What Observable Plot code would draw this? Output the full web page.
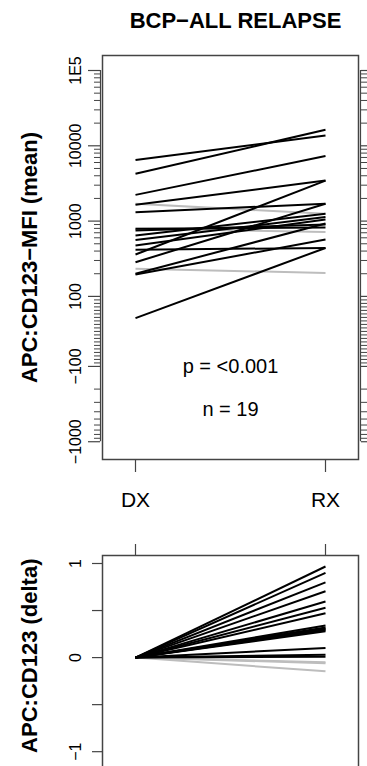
<!DOCTYPE html>
<html><head><meta charset="utf-8">
<script src="https://cdn.jsdelivr.net/npm/d3@7"></script>
<script src="https://cdn.jsdelivr.net/npm/@observablehq/plot@0.6"></script>
<style>
body{margin:0;background:#fff;}
#wrap{width:367px;height:766px;overflow:hidden;}
#wrap svg{display:block;}
</style></head>
<body><div id="wrap"></div>
<script>
// ---- data ----
const categories = ["DX", "RX"];
const dxValues = [6500, 4250, 2230, 1650, 360, 38, 1700, 790, 233, 1310, 284, 416, 195, 644, 474, 200, 790, 560, 750];
const rxValues = [13700, 16300, 7300, 3450, 3450, 440, 1250, 716, 205, 1700, 1700, 440, 570, 1250, 1050, 930, 820, 1130, 900];
const isGray   = [0, 0, 0, 0, 0, 0, 1, 1, 1, 0, 0, 0, 0, 0, 0, 0, 0, 0, 0];
const deltaValues = [0.32, 0.596, 0.529, 0.30, 0.968, 0.90, -0.146, -0.05, -0.06, 0.103, 0.80, 0.03, 0.471, 0.29, 0.34, 0.705, 0.01, 0.28, 0.31];
const majorTicks = [1e5, 1e4, 1e3, 100, -100, -1000];
const majorLabels = ["1E5", "10000", "1000", "100", "\u2212100", "\u22121000"];
const deltaTicks = [1, 0.5, 0, -0.5, -1];
const deltaLabels = ["1", "", "0", "", "\u22121"];
const titleText = "BCP\u2212ALL RELAPSE";
const yLabelTop = "APC:CD123\u2212MFI (mean)";
const yLabelBottom = "APC:CD123 (delta)";
const pText = "p = <0.001";
const nText = "n = 19";

// minor ticks
const minorTicks = [];
for (let e = 2; e <= 4; e++) for (let m = 2; m <= 9; m++) minorTicks.push(m * 10 ** e);
for (let v = -90; v <= 90; v += 10) minorTicks.push(v);
for (let m = 2; m <= 9; m++) minorTicks.push(-m * 100);

// ---- scale transform (log above 100, linear in [-100,100], mirrored log below) ----
const L = 0.93;
function tf(v) {
  if (v >= 100) return Math.log10(v);
  if (v <= -100) return 2 - L - (Math.log10(-v) - 2);
  return 2 - (100 - v) / 200 * L;
}

const rows = dxValues.map((d, i) => ({dx: d, rx: rxValues[i], g: isGray[i], delta: deltaValues[i]}));
const ordered = [...rows.filter(r => r.g), ...rows.filter(r => !r.g)];

const GRAY = "#bdbdbd", INK = "#444";
const font = "'Liberation Sans', Arial, Helvetica, sans-serif";
const xLo = 1 - 33 / 190, xHi = 2 + 33 / 190;
const tHi = 5 + 15 / 75.3, tLo = tHi - 404 / 75.3;

const topPlot = Plot.plot({
  width: 367, height: 520,
  marginLeft: 102, marginRight: 9, marginTop: 55, marginBottom: 61,
  style: {fontFamily: font, background: "white", color: "black"},
  x: {type: "linear", domain: [xLo, xHi], axis: null},
  y: {type: "linear", domain: [tLo, tHi], transform: tf, axis: null, label: null},
  marks: [
    Plot.link(ordered, {x1: () => 1, x2: () => 2, y1: "dx", y2: "rx",
      stroke: d => d.g ? GRAY : "black", strokeWidth: 2}),
    Plot.frame({stroke: INK, strokeWidth: 1.5}),
    Plot.ruleX([xLo], {y1: 1e5, y2: -1000, dx: -2, stroke: INK, strokeWidth: 1.2}),
    Plot.ruleX([xHi], {y1: 1e5, y2: -1000, dx: 2, stroke: INK, strokeWidth: 1.2}),
    Plot.axisY(majorTicks, {anchor: "left", tickSize: 12, dx: -2, tickFormat: () => "", stroke: INK, strokeWidth: 1.2, label: null}),
    Plot.axisY(minorTicks, {anchor: "left", tickSize: 6, dx: -2, tickFormat: () => "", stroke: INK, strokeWidth: 1, label: null}),
    Plot.axisY(majorTicks, {anchor: "right", tickSize: 8, dx: 2, tickFormat: () => "", stroke: INK, strokeWidth: 1.2, label: null}),
    Plot.axisY(minorTicks, {anchor: "right", tickSize: 6, dx: 2, tickFormat: () => "", stroke: INK, strokeWidth: 1, label: null}),
    Plot.text(majorTicks, {y: d => d, text: (d, i) => majorLabels[i], frameAnchor: "left", textAnchor: "middle", lineAnchor: "middle", dx: -27, rotate: -90, fontSize: 16}),
    Plot.axisX([1, 2], {anchor: "bottom", tickSize: 13, tickFormat: () => "", stroke: INK, strokeWidth: 1.2, label: null}),
    Plot.text(categories, {x: (d, i) => i + 1, text: d => d, frameAnchor: "bottom", lineAnchor: "middle", dy: 41, fontSize: 21}),
    Plot.text([pText], {x: 1.5, y: -100, text: d => d, fontSize: 20}),
    Plot.text([nText], {x: 1.5, y: -380, text: d => d, fontSize: 20}),
    Plot.text([titleText], {frameAnchor: "top", lineAnchor: "middle", dy: -35, dx: 5, text: d => d, fontWeight: "bold", fontSize: 22}),
    Plot.text([yLabelTop], {frameAnchor: "left", textAnchor: "middle", lineAnchor: "middle", dx: -73, rotate: -90, text: d => d, fontWeight: "bold", fontSize: 22})
  ]
});

const bottomPlot = Plot.plot({
  width: 367, height: 256,
  marginLeft: 102, marginRight: 9, marginTop: 35, marginBottom: 6,
  style: {fontFamily: font, background: "white", color: "black"},
  x: {type: "linear", domain: [xLo, xHi], axis: null},
  y: {type: "linear", domain: [-1.2, 1.085], axis: null, label: null},
  marks: [
    Plot.link(ordered, {x1: () => 1, x2: () => 2, y1: () => 0, y2: "delta",
      stroke: d => d.g ? GRAY : "black", strokeWidth: 2}),
    Plot.frame({stroke: INK, strokeWidth: 1.5}),
    Plot.axisX([1, 2], {anchor: "top", tickSize: 12, tickFormat: () => "", stroke: INK, strokeWidth: 1.2, label: null}),
    Plot.axisY(deltaTicks, {anchor: "left", tickSize: 10, tickFormat: () => "", stroke: INK, strokeWidth: 1.2, label: null}),
    Plot.text(deltaTicks, {y: d => d, text: (d, i) => deltaLabels[i], frameAnchor: "left", textAnchor: "middle", lineAnchor: "middle", dx: -27, rotate: -90, fontSize: 16}),
    Plot.text([yLabelBottom], {y: 0.02, frameAnchor: "left", textAnchor: "middle", lineAnchor: "middle", dx: -73, rotate: -90, text: d => d, fontWeight: "bold", fontSize: 22})
  ]
});

document.getElementById("wrap").append(topPlot, bottomPlot);
</script>
</body></html>
